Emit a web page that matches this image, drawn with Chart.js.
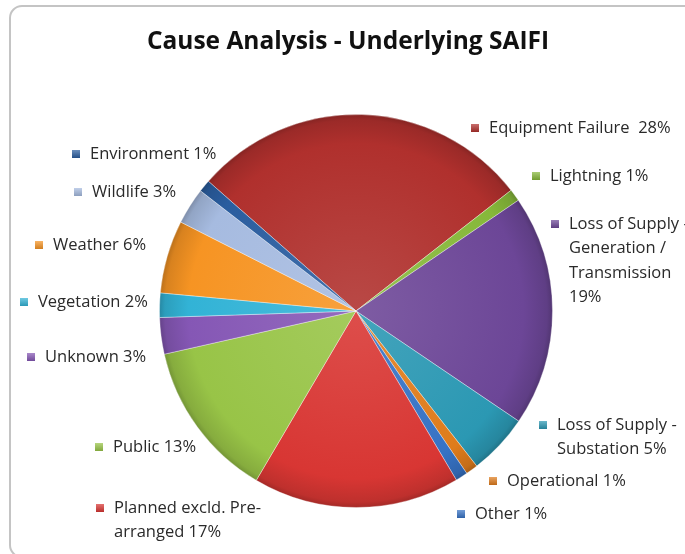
<!DOCTYPE html>
<html>
<head>
<meta charset="utf-8">
<script src="https://cdn.jsdelivr.net/npm/chart.js@4.4.1/dist/chart.umd.min.js"></script>
<style>
  body { margin: 0; background: #fff; }
  #wrap { width: 685px; height: 554px; }
</style>
</head>
<body>
<div id="wrap"><canvas id="myChart" width="685" height="554"></canvas></div>
<script>
var titleText = 'Cause Analysis - Underlying SAIFI';

var categories = [
    'Equipment Failure ',
    'Lightning',
    'Loss of Supply - Generation / Transmission',
    'Loss of Supply - Substation',
    'Operational',
    'Other',
    'Planned excld. Pre-arranged',
    'Public',
    'Unknown',
    'Vegetation',
    'Weather',
    'Wildlife',
    'Environment'
];
var percents = [28, 1, 19, 5, 1, 1, 17, 13, 3, 2, 6, 3, 1];
var colors = [
    '#b0302d', '#86b83a', '#6c4697', '#2b98b3', '#df7c1c', '#3672c4', '#d83633',
    '#98c447', '#8557b5', '#32b3d6', '#f69423', '#a6bbe0', '#2a5d9f'
];

// label placement: colored square centre (x, y), wrap width for the text
var labelLayout = [
    { x: 475, y: 128, w: 0 },
    { x: 536, y: 176, w: 0 },
    { x: 555, y: 224, w: 132 },
    { x: 543, y: 425, w: 132 },
    { x: 493, y: 481, w: 0 },
    { x: 461, y: 514, w: 0 },
    { x: 100, y: 508, w: 152 },
    { x: 99, y: 447, w: 0 },
    { x: 31, y: 357, w: 0 },
    { x: 24, y: 302, w: 0 },
    { x: 39, y: 245, w: 0 },
    { x: 78, y: 192, w: 0 },
    { x: 76, y: 154, w: 0 }
];

function shade(hex, amt) {
    var n = parseInt(hex.slice(1), 16);
    var r = n >> 16, g = (n >> 8) & 255, b = n & 255;
    function f(c) {
        c = amt > 0 ? c + (255 - c) * amt : c * (1 + amt);
        return Math.round(Math.max(0, Math.min(255, c)));
    }
    return 'rgb(' + f(r) + ',' + f(g) + ',' + f(b) + ')';
}

function sliceFill(context) {
    var chart = context.chart;
    var area = chart.chartArea;
    var base = colors[context.dataIndex];
    if (!area) return base;
    var cx = (area.left + area.right) / 2;
    var cy = (area.top + area.bottom) / 2;
    var r = Math.min(area.right - area.left, area.bottom - area.top) / 2;
    var g = chart.ctx.createRadialGradient(cx, cy, 0, cx, cy, r);
    g.addColorStop(0, shade(base, 0.12));
    g.addColorStop(0.85, base);
    g.addColorStop(0.97, shade(base, -0.12));
    g.addColorStop(1, shade(base, -0.25));
    return g;
}

// word wrap, also allowing a break right after a hyphen inside a word
function wrapLines(ctx, text, maxW) {
    if (!maxW) return [text];
    var parts = [];
    text.split(' ').forEach(function (w, i) {
        var bits = w.split(/(?<=-)(?=\w)/);
        bits.forEach(function (b, j) {
            parts.push({ t: b, sep: (j === 0 && i > 0) ? ' ' : '' });
        });
    });
    var lines = [];
    var cur = '';
    parts.forEach(function (p) {
        var t = cur ? cur + p.sep + p.t : p.t;
        if (cur && ctx.measureText(t).width > maxW) {
            lines.push(cur);
            cur = p.t;
        } else {
            cur = t;
        }
    });
    if (cur) lines.push(cur);
    return lines;
}

var decor = {
    id: 'decor',
    beforeDraw: function (chart) {
        var ctx = chart.ctx;
        ctx.save();
        ctx.strokeStyle = '#c4c4c4';
        ctx.lineWidth = 2;
        ctx.beginPath();
        ctx.roundRect(10, 6, 700, 551, 12);
        ctx.stroke();
        ctx.fillStyle = '#111';
        ctx.font = 'bold 24.5px "Open Sans"';
        ctx.textAlign = 'center';
        ctx.textBaseline = 'middle';
        ctx.fillText(titleText, 348, 42);
        ctx.restore();
    },
    afterDraw: function (chart) {
        var ctx = chart.ctx;
        ctx.save();
        ctx.font = '500 16.5px "Open Sans"';
        ctx.textBaseline = 'middle';
        ctx.textAlign = 'left';
        categories.forEach(function (name, i) {
            var p = labelLayout[i];
            var s = 8;
            var g = ctx.createLinearGradient(0, p.y - s / 2, 0, p.y + s / 2);
            g.addColorStop(0, shade(colors[i], 0.3));
            g.addColorStop(1, shade(colors[i], -0.15));
            ctx.fillStyle = g;
            ctx.fillRect(p.x - s / 2, p.y - s / 2, s, s);
            ctx.fillStyle = '#2a2a2a';
            var lines = wrapLines(ctx, name + ' ' + percents[i] + '%', p.w);
            lines.forEach(function (ln, k) {
                ctx.fillText(ln, p.x + 14, p.y + k * 24.5);
            });
        });
        ctx.restore();
    }
};

var ctx = document.getElementById('myChart').getContext('2d');
var myChart = new Chart(ctx, {
    type: 'pie',
    data: {
        labels: categories,
        datasets: [{
            data: percents,
            backgroundColor: sliceFill,
            borderColor: 'rgba(255,255,255,0.35)',
            borderWidth: 1
        }]
    },
    options: {
        responsive: false,
        animation: false,
        rotation: -48.7,
        layout: { padding: { left: 120, right: 93, top: 114, bottom: 46 } },
        plugins: {
            legend: { display: false },
            title: { display: false },
            tooltip: { enabled: false }
        }
    },
    plugins: [decor]
});
</script>
</body>
</html>
